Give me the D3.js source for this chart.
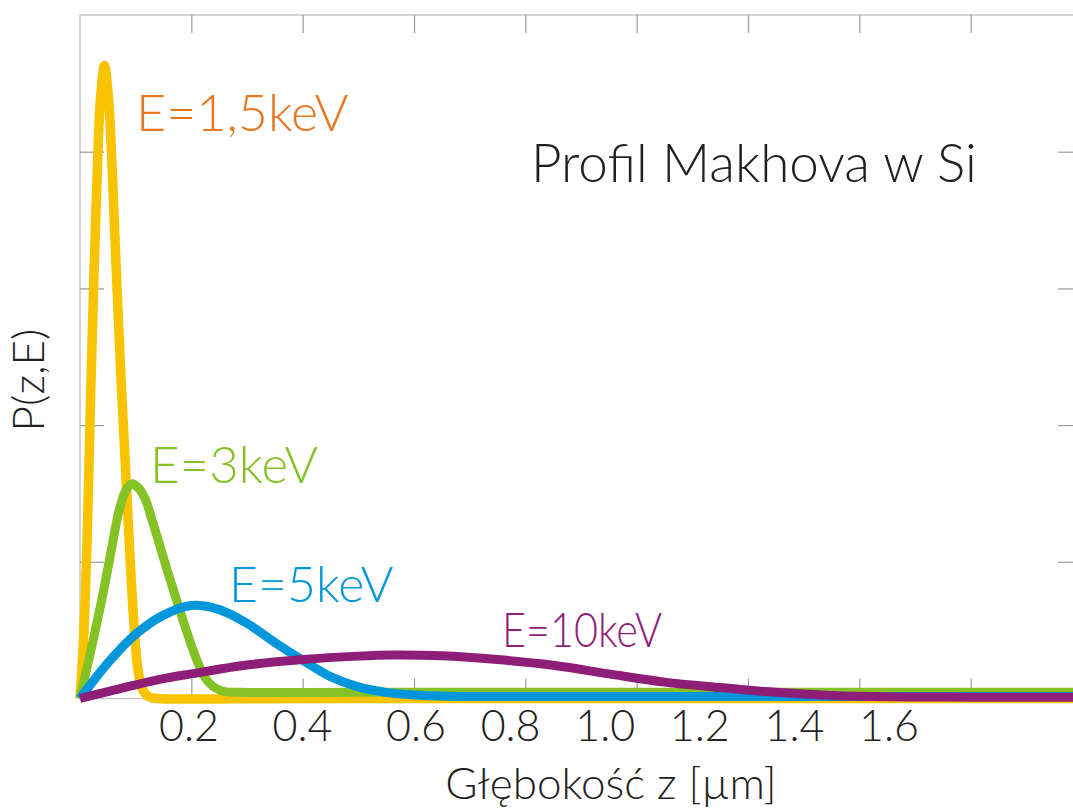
<!DOCTYPE html>
<html>
<head>
<meta charset="utf-8">
<script src="https://cdn.jsdelivr.net/npm/d3@7"></script>
<style>
  html, body { margin: 0; padding: 0; background: #fff; overflow: hidden; }
  svg { display: block; }
  text { font-family: Lato, "Open Sans", sans-serif; }
</style>
</head>
<body>
<svg id="chart" width="1073" height="810"></svg>
<script>
// Depth z [µm] and P(z,E) for each beam energy, as [z, P] pairs
const profile1_5keV = [
  [0, 0], [0.006, 0.4], [0.013, 1.2], [0.019, 2.2], [0.025, 3.1], [0.031, 3.85],
  [0.037, 4.4], [0.044, 4.63], [0.051, 4.4], [0.058, 3.85], [0.065, 3.15],
  [0.073, 2.4], [0.081, 1.75], [0.089, 1.1], [0.096, 0.6], [0.104, 0.22],
  [0.113, 0.06], [0.125, 0.01], [0.14, 0], [0.4, 0], [1.0, 0], [1.8, 0]
];
const profile3keV = [
  [0, 0], [0.02, 0.36], [0.04, 0.74], [0.056, 1.08], [0.07, 1.37], [0.082, 1.52],
  [0.093, 1.57], [0.105, 1.54], [0.117, 1.46], [0.13, 1.3], [0.144, 1.11],
  [0.158, 0.92], [0.172, 0.74], [0.186, 0.56], [0.2, 0.39], [0.213, 0.25],
  [0.225, 0.15], [0.24, 0.085], [0.26, 0.05], [0.285, 0.045], [0.5, 0.045],
  [1.0, 0.045], [1.8, 0.045]
];
const profile5keV = [
  [0, 0], [0.05, 0.26], [0.1, 0.47], [0.15, 0.61], [0.2, 0.68], [0.25, 0.65],
  [0.3, 0.55], [0.35, 0.41], [0.4, 0.28], [0.45, 0.16], [0.5, 0.085],
  [0.55, 0.045], [0.6, 0.026], [0.66, 0.017], [0.75, 0.015], [1.2, 0.015],
  [1.8, 0.015]
];
const profile10keV = [
  [0, 0], [0.05, 0.05], [0.1, 0.1], [0.15, 0.145], [0.2, 0.18], [0.3, 0.245],
  [0.4, 0.285], [0.5, 0.31], [0.56, 0.318], [0.65, 0.312], [0.75, 0.285],
  [0.85, 0.243], [0.95, 0.18], [1.05, 0.12], [1.15, 0.08], [1.25, 0.045],
  [1.35, 0.022], [1.45, 0.012], [1.6, 0.01], [1.8, 0.01]
];

const seriesNames = ["E=1,5keV", "E=3keV", "E=5keV", "E=10keV"];
const xTickValues = [0.2, 0.4, 0.6, 0.8, 1.0, 1.2, 1.4, 1.6];
const xTickLabels = ["0.2", "0.4", "0.6", "0.8", "1.0", "1.2", "1.4", "1.6"];
const yTickValues = [1, 2, 3, 4];

const titleText = "Profil Makhova w Si";
const xAxisTitle = "Głębokość z [µm]";
const yAxisTitle = "P(z,E)";

// Layout
const plot = { left: 80, right: 1082, top: 15, bottom: 698.5 };
const svg = d3.select("#chart");

const x = d3.scaleLinear().domain([0, 1.8]).range([plot.left, plot.right]);
const y = d3.scaleLinear().domain([0, 5]).range([plot.bottom, plot.top]);
// tick captions sit on their own, slightly uneven baseline spacing
const xLabel = d3.scaleLinear().domain([0.2, 0.6, 1.6]).range([189, 416, 889]);

// Frame
const frameColor = "#c6c6c6";
const tickColor = "#9a9a9a";
svg.append("rect")
  .attr("x", plot.left).attr("y", plot.top)
  .attr("width", plot.right - plot.left).attr("height", plot.bottom - plot.top)
  .attr("fill", "none").attr("stroke", frameColor).attr("stroke-width", 1.5);

function styleAxis(g) {
  g.select(".domain").remove();
  g.selectAll(".tick line").attr("stroke", tickColor).attr("stroke-width", 1.2);
  g.selectAll(".tick text").remove();
}

svg.append("g")
  .attr("transform", `translate(0,${plot.bottom})`)
  .call(d3.axisBottom(x).tickValues(xTickValues).tickSize(-20).tickFormat(""))
  .call(styleAxis);
svg.append("g")
  .attr("transform", `translate(0,${plot.top})`)
  .call(d3.axisTop(x).tickValues(xTickValues).tickSize(-18).tickFormat(""))
  .call(styleAxis);
svg.append("g")
  .attr("transform", `translate(${plot.left},0)`)
  .call(d3.axisLeft(y).tickValues(yTickValues).tickSize(-24).tickFormat(""))
  .call(styleAxis);
svg.append("g")
  .attr("transform", `translate(${plot.right},0)`)
  .call(d3.axisRight(y).tickValues(yTickValues).tickSize(-24).tickFormat(""))
  .call(styleAxis);

// Tick captions
svg.append("g").selectAll("text")
  .data(xTickValues)
  .join("text")
  .attr("x", d => xLabel(d))
  .attr("y", 741)
  .attr("text-anchor", "middle")
  .attr("font-size", 43)
  .attr("font-weight", 300)
  .attr("fill", "#231f20")
  .text((d, i) => xTickLabels[i]);

// Profiles
const line = d3.line()
  .x(d => x(d[0]))
  .y(d => y(d[1]))
  .curve(d3.curveCatmullRom.alpha(0.5));

const series = [
  { data: profile1_5keV, color: "#f8c300", width: 9.5 },
  { data: profile3keV, color: "#84c225", width: 9 },
  { data: profile5keV, color: "#0096db", width: 9 },
  { data: profile10keV, color: "#8e1e78", width: 9 }
];

svg.append("g").selectAll("path")
  .data(series)
  .join("path")
  .attr("d", d => line(d.data))
  .attr("fill", "none")
  .attr("stroke", d => d.color)
  .attr("stroke-width", d => d.width)
  .attr("stroke-linejoin", "round");

// Series captions
const captions = [
  { text: seriesNames[0], x: 136, y: 131, size: 52, color: "#e87722" },
  { text: seriesNames[1], x: 150, y: 483, size: 51, color: "#84c225" },
  { text: seriesNames[2], x: 229, y: 602, size: 50, color: "#0096db" },
  { text: seriesNames[3], x: 502, y: 647, size: 47, color: "#8e1e78", length: 160 }
];
svg.append("g").selectAll("text")
  .data(captions)
  .join("text")
  .attr("x", d => d.x)
  .attr("y", d => d.y)
  .attr("font-size", d => d.size)
  .attr("font-weight", 300)
  .attr("fill", d => d.color)
  .each(function (d) {
    if (d.length) {
      d3.select(this)
        .attr("textLength", d.length)
        .attr("lengthAdjust", "spacingAndGlyphs");
    }
  })
  .text(d => d.text);

// Title and axis titles
svg.append("text")
  .attr("x", 531).attr("y", 182)
  .attr("font-size", 53)
  .attr("font-weight", 300)
  .attr("fill", "#231f20")
  .text(titleText);

svg.append("text")
  .attr("x", 611).attr("y", 799)
  .attr("text-anchor", "middle")
  .attr("font-size", 44)
  .attr("font-weight", 300)
  .attr("fill", "#231f20")
  .text(xAxisTitle);

svg.append("text")
  .attr("transform", "translate(44,380) rotate(-90)")
  .attr("text-anchor", "middle")
  .attr("font-size", 44)
  .attr("font-weight", 300)
  .attr("fill", "#231f20")
  .text(yAxisTitle);
</script>
</body>
</html>
